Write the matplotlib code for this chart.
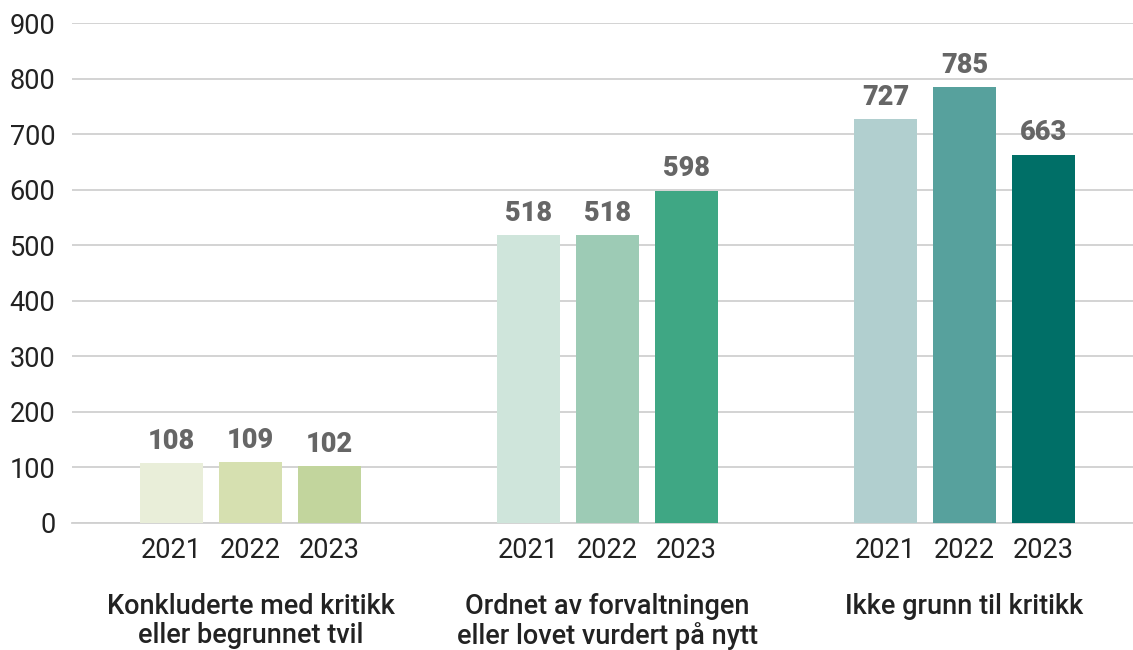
import numpy as np
import matplotlib
matplotlib.use("Agg")
import matplotlib.pyplot as plt

plt.rcParams["font.family"] = ["Roboto", "DejaVu Sans"]

categories = [
    "Konkluderte med kritikk\neller begrunnet tvil",
    "Ordnet av forvaltningen\neller lovet vurdert på nytt",
    "Ikke grunn til kritikk",
]
years = ["2021", "2022", "2023"]
values = [
    [108, 109, 102],
    [518, 518, 598],
    [727, 785, 663],
]
colors = [
    ["#e9eed9", "#d6e0b0", "#c2d59d"],
    ["#cfe5db", "#9dcbb5", "#3fa784"],
    ["#b1cfcf", "#57a19d", "#006f67"],
]

fig = plt.figure(figsize=(11.33, 6.5), dpi=100)
ax = fig.add_axes([0.0635, 0.1954, 0.9365, 0.7692])

bar_w = 0.176
step = 0.221
xs, labels = [], []
for i, cat in enumerate(categories):
    for j, yr in enumerate(years):
        x = i + (j - 1) * step
        v = values[i][j]
        ax.bar(x, v, width=bar_w, color=colors[i][j], zorder=3)
        ax.annotate(str(v), (x, v), xytext=(0, 6), textcoords="offset points",
                    ha="center", va="bottom", fontsize=19.5, fontweight="heavy",
                    color="#666666")
        xs.append(x)
        labels.append(yr)
    ax.text(i, -0.14, cat, transform=ax.get_xaxis_transform(), ha="center",
            va="top", fontsize=19.5, fontweight="medium", color="#222222",
            linespacing=1.1)

ax.set_xticks(xs)
ax.set_xticklabels(labels)
ax.set_xlim(-0.5, 2.472)
ax.set_ylim(0, 900)
ax.set_yticks(np.arange(0, 901, 100))
ax.grid(axis="y", color="#d0d0d0", linewidth=1.3, zorder=0)
ax.tick_params(axis="both", length=0, labelsize=19.5, colors="#222222")
ax.tick_params(axis="x", pad=10)
ax.tick_params(axis="y", pad=12)
for s in ["top", "right", "left"]:
    ax.spines[s].set_visible(False)
ax.spines["bottom"].set_color("#d0d0d0")
ax.spines["bottom"].set_linewidth(1.3)

fig.savefig("out.png", dpi=100)
